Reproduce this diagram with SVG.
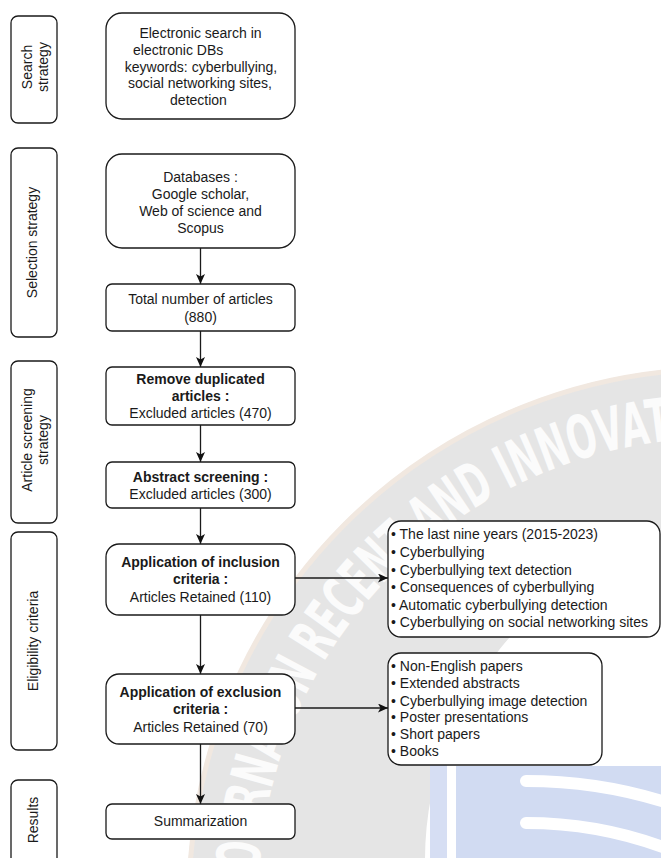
<svg xmlns="http://www.w3.org/2000/svg" width="661" height="858" viewBox="0 0 661 858">
  <defs>
    <marker id="arrow" viewBox="0 0 10 9" markerWidth="10" markerHeight="9" refX="10" refY="4.5" orient="auto" markerUnits="userSpaceOnUse">
      <path d="M0,0 L10,4.5 L0,9 L2.5,4.5 Z" fill="#111"/>
    </marker>
    <!-- baseline of the seal lettering, clockwise from lower left -->
    <path id="sealArc" d="M 258.3 883.9 A 462 462 0 0 1 1166.3 780.4"/>
  </defs>
  <style>
    .box{fill:#fff;stroke:#1a1a1a;stroke-width:1.3}
    .t{font-family:"Liberation Sans",Arial,sans-serif;font-size:14px;fill:#1a1a1a}
    .c{text-anchor:middle}
    .b{font-weight:bold}
    .edge{stroke:#1a1a1a;stroke-width:1.3;fill:none;marker-end:url(#arrow)}
    .seal{font-family:"DejaVu Sans",sans-serif;font-weight:bold;font-size:60px;fill:#fbfbfb}
  </style>

  <rect width="661" height="858" fill="#fff"/>

  <!-- faint background seal -->
  <g id="seal">
    <path fill="#e5e5e5" fill-rule="evenodd" d="M 187 900 A 533 533 0 1 1 1253 900 A 533 533 0 1 1 187 900 Z M 425 860 A 335 335 0 1 0 1095 860 A 335 335 0 1 0 425 860 Z"/>
    <circle cx="720" cy="900" r="531" fill="none" stroke="#f1e8e0" stroke-width="5"/>
    <text class="seal"><textPath href="#sealArc" startOffset="0" textLength="172" lengthAdjust="spacingAndGlyphs">JOURNAL</textPath></text>
    <text class="seal"><textPath href="#sealArc" startOffset="166" textLength="57" lengthAdjust="spacingAndGlyphs">ON</textPath></text>
    <text class="seal"><textPath href="#sealArc" startOffset="233" textLength="149" lengthAdjust="spacingAndGlyphs">RECENT</textPath></text>
    <text class="seal"><textPath href="#sealArc" startOffset="394" textLength="83" lengthAdjust="spacingAndGlyphs">AND</textPath></text>
    <text class="seal"><textPath href="#sealArc" startOffset="489" textLength="244" lengthAdjust="spacingAndGlyphs">INNOVATION</textPath></text>
    <rect x="430" y="764" width="17" height="94" fill="#d6def3"/>
    <rect x="456" y="766" width="205" height="92" fill="#d1dbf2"/>
    <path d="M 526 781 Q 600 781 668 803" fill="none" stroke="#fff" stroke-width="12" stroke-linecap="round"/>
    <path d="M 526 823 Q 600 823 668 849" fill="none" stroke="#fff" stroke-width="12" stroke-linecap="round"/>
  </g>

  <!-- stage labels -->
  <g id="lbl-search">
    <rect class="box" x="11" y="16" width="46" height="107" rx="7"/>
    <text class="t c" transform="translate(34,67) rotate(-90)"><tspan x="0" y="-2">Search</tspan><tspan x="0" y="14">strategy</tspan></text>
  </g>
  <g id="lbl-selection">
    <rect class="box" x="11" y="148" width="46" height="189" rx="7"/>
    <text class="t c" transform="translate(34,242.5) rotate(-90)" y="3">Selection strategy</text>
  </g>
  <g id="lbl-screening">
    <rect class="box" x="11" y="361" width="46" height="162" rx="7"/>
    <text class="t c" transform="translate(34,440) rotate(-90)"><tspan x="0" y="-2">Article screening</tspan><tspan x="0" y="14">strategy</tspan></text>
  </g>
  <g id="lbl-eligibility">
    <rect class="box" x="11" y="532" width="46" height="218" rx="7"/>
    <text class="t c" transform="translate(34,641) rotate(-90)" y="4">Eligibility criteria</text>
  </g>
  <g id="lbl-results">
    <rect class="box" x="11" y="780" width="46" height="86" rx="7"/>
    <text class="t c" transform="translate(34,820) rotate(-90)" y="4">Results</text>
  </g>

  <!-- connectors -->
  <g id="connectors">
    <line class="edge" x1="200.5" y1="248" x2="200.5" y2="284"/>
    <line class="edge" x1="200.5" y1="331" x2="200.5" y2="367"/>
    <line class="edge" x1="200.5" y1="425" x2="200.5" y2="462"/>
    <line class="edge" x1="200.5" y1="508" x2="200.5" y2="544"/>
    <line class="edge" x1="200.5" y1="615" x2="200.5" y2="674"/>
    <line class="edge" x1="200.5" y1="744" x2="200.5" y2="804"/>
    <line class="edge" x1="295" y1="578" x2="388" y2="578"/>
    <line class="edge" x1="295" y1="708" x2="388" y2="708"/>
  </g>

  <!-- flow nodes -->
  <g id="n-search">
    <rect class="box" x="106" y="13" width="189" height="106" rx="16"/>
    <text class="t c" x="200.5" y="38">Electronic search in</text>
    <text class="t" x="133" y="55">electronic DBs</text>
    <text class="t c" x="201" y="72">keywords: cyberbullying,</text>
    <text class="t c" x="200" y="88">social networking sites,</text>
    <text class="t c" x="198.5" y="105">detection</text>
  </g>
  <g id="n-databases">
    <rect class="box" x="106" y="154" width="189" height="94" rx="16"/>
    <text class="t c" x="200.5" y="182">Databases :</text>
    <text class="t c" x="200.5" y="199">Google scholar,</text>
    <text class="t c" x="200.5" y="216">Web of science and</text>
    <text class="t c" x="200.5" y="233">Scopus</text>
  </g>
  <g id="n-total">
    <rect class="box" x="106" y="284" width="189" height="47" rx="6"/>
    <text class="t c" x="200.5" y="304">Total number of articles</text>
    <text class="t c" x="200.5" y="322">(880)</text>
  </g>
  <g id="n-duplicates">
    <rect class="box" x="106" y="367" width="189" height="58" rx="6"/>
    <text class="t c b" x="200.5" y="384">Remove duplicated</text>
    <text class="t c b" x="200.5" y="401">articles :</text>
    <text class="t c" x="200.5" y="418">Excluded articles (470)</text>
  </g>
  <g id="n-abstract">
    <rect class="box" x="106" y="462" width="189" height="46" rx="6"/>
    <text class="t c b" x="200.5" y="482">Abstract screening :</text>
    <text class="t c" x="200.5" y="499">Excluded articles (300)</text>
  </g>
  <g id="n-inclusion">
    <rect class="box" x="106" y="544" width="189" height="71" rx="13"/>
    <text class="t c b" x="200.5" y="567">Application of inclusion</text>
    <text class="t c b" x="200.5" y="584">criteria :</text>
    <text class="t c" x="200.5" y="602">Articles Retained (110)</text>
  </g>
  <g id="n-exclusion">
    <rect class="box" x="106" y="674" width="189" height="70" rx="13"/>
    <text class="t c b" x="200.5" y="697">Application of exclusion</text>
    <text class="t c b" x="200.5" y="714">criteria :</text>
    <text class="t c" x="200.5" y="732">Articles Retained (70)</text>
  </g>
  <g id="n-summary">
    <rect class="box" x="106" y="804" width="189" height="35" rx="6"/>
    <text class="t c" x="200.5" y="826">Summarization</text>
  </g>

  <g id="n-inclusion-list">
    <rect class="box" x="388" y="521" width="272" height="116" rx="13"/>
    <text class="t" x="391" y="539">• The last nine years (2015-2023)</text>
    <text class="t" x="391" y="557">• Cyberbullying</text>
    <text class="t" x="391" y="575">• Cyberbullying text detection</text>
    <text class="t" x="391" y="592">• Consequences of cyberbullying</text>
    <text class="t" x="391" y="610">• Automatic cyberbullying detection</text>
    <text class="t" x="391" y="627">• Cyberbullying on social networking sites</text>
  </g>
  <g id="n-exclusion-list">
    <rect class="box" x="388" y="653" width="214" height="112" rx="13"/>
    <text class="t" x="391" y="671">• Non-English papers</text>
    <text class="t" x="391" y="688">• Extended abstracts</text>
    <text class="t" x="391" y="705.5">• Cyberbullying image detection</text>
    <text class="t" x="391" y="722">• Poster presentations</text>
    <text class="t" x="391" y="739">• Short papers</text>
    <text class="t" x="391" y="756">• Books</text>
  </g>
</svg>
